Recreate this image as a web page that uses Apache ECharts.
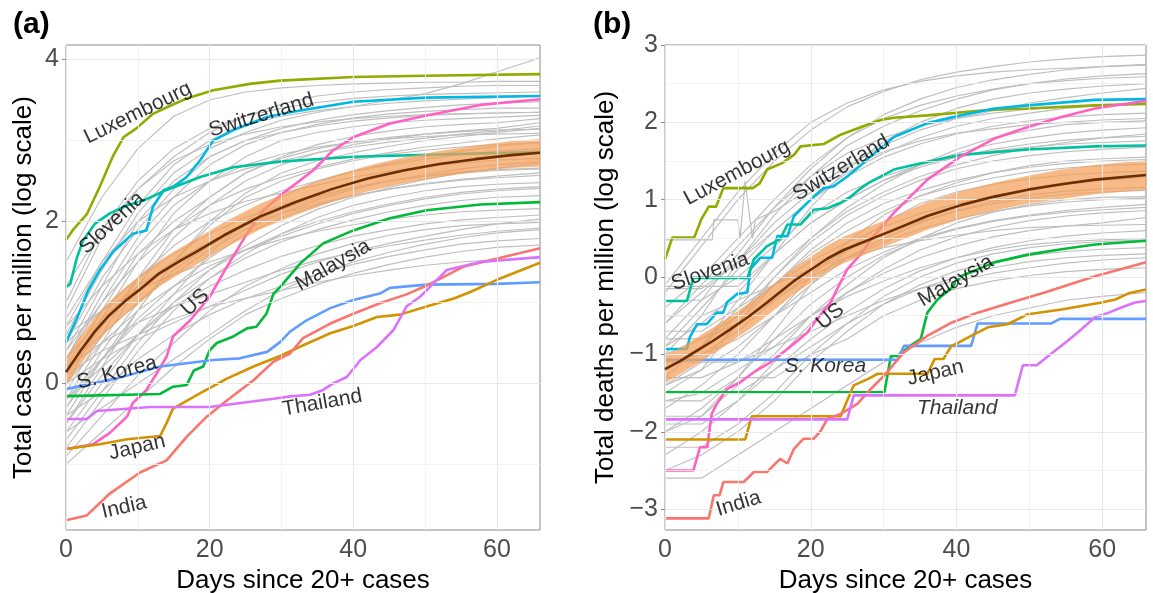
<!DOCTYPE html>
<html><head><meta charset="utf-8">
<script src="https://cdn.jsdelivr.net/npm/echarts@6/dist/echarts.min.js"></script>
<style>html,body{margin:0;padding:0;background:#fff}#c{width:1153px;height:593px}</style>
</head><body><div id="c"></div>
<script>
// ---------- tick labels ----------
const X_TICKS = [0, 20, 40, 60];
const X_MINOR = [10, 30, 50];
const Y_TICKS_A = [0, 2, 4];
const Y_MINOR_A = [-1, 1, 3];
const Y_TICKS_B = [-3, -2, -1, 0, 1, 2, 3];
const Y_MINOR_B = [-2.5, -1.5, -0.5, 0.5, 1.5, 2.5];

// ---------- background countries (grey), sampled days ----------
const GRAY_DAYS = [0, 5, 10, 15, 20, 25, 30, 35, 40, 45, 50, 55, 60, 66];
const GRAY_A = [
  [1.5,2.3,2.9,3.3,3.5,3.6,3.65,3.68,3.70,3.71,3.72,3.72,3.73,3.73],
  [0.6,1.4,2.1,2.6,2.9,3.1,3.25,3.35,3.42,3.5,3.58,3.7,3.85,4.02],
  [0.9,1.8,2.4,2.8,3.1,3.3,3.45,3.55,3.6,3.63,3.65,3.67,3.68,3.68],
  [0.3,1.1,1.8,2.3,2.7,2.95,3.1,3.2,3.28,3.33,3.36,3.38,3.4,3.4],
  [0.5,1.3,1.9,2.4,2.8,3.0,3.1,3.18,3.24,3.28,3.31,3.33,3.34,3.35],
  [0.0,0.8,1.5,2.1,2.5,2.8,3.0,3.1,3.17,3.22,3.25,3.27,3.29,3.31],
  [0.2,0.9,1.6,2.0,2.3,2.6,2.8,2.95,3.05,3.12,3.17,3.2,3.22,3.27],
  [-0.2,0.5,1.2,1.8,2.2,2.5,2.7,2.85,2.95,3.02,3.08,3.12,3.15,3.22],
  [0.8,1.5,2.0,2.3,2.5,2.65,2.75,2.85,2.92,2.98,3.03,3.08,3.12,3.18],
  [-0.4,0.3,0.9,1.5,2.0,2.35,2.6,2.75,2.85,2.93,3.0,3.05,3.1,3.15],
  [0.4,1.0,1.5,1.9,2.2,2.4,2.55,2.67,2.77,2.85,2.92,2.97,3.02,3.07],
  [0.1,0.7,1.3,1.7,2.0,2.2,2.38,2.5,2.62,2.72,2.8,2.87,2.93,2.98],
  [-0.6,0.0,0.6,1.1,1.6,2.0,2.3,2.5,2.62,2.7,2.77,2.83,2.87,2.9],
  [0.7,1.2,1.6,1.9,2.1,2.25,2.35,2.45,2.55,2.62,2.68,2.72,2.76,2.78],
  [-0.3,0.4,1.0,1.4,1.7,1.95,2.15,2.3,2.42,2.5,2.56,2.61,2.64,2.66],
  [0.3,0.8,1.2,1.5,1.75,1.95,2.1,2.22,2.32,2.4,2.46,2.51,2.54,2.57],
  [-0.8,-0.2,0.4,0.9,1.3,1.6,1.85,2.05,2.2,2.3,2.38,2.43,2.46,2.48],
  [0.0,0.5,0.9,1.2,1.45,1.65,1.82,1.97,2.1,2.2,2.28,2.34,2.38,2.41],
  [-0.5,0.1,0.6,1.0,1.3,1.55,1.75,1.9,2.02,2.12,2.2,2.26,2.3,2.32],
  [0.6,0.9,1.15,1.35,1.5,1.65,1.78,1.88,1.96,2.03,2.08,2.12,2.14,2.16],
  [-0.2,0.2,0.6,0.95,1.2,1.4,1.57,1.7,1.82,1.9,1.97,2.02,2.05,2.08],
  [-0.9,-0.4,0.1,0.5,0.9,1.2,1.42,1.6,1.73,1.83,1.9,1.95,1.97,1.99],
  [0.2,0.5,0.75,0.95,1.1,1.25,1.4,1.52,1.62,1.7,1.77,1.83,1.88,1.92],
  [-0.4,-0.1,0.3,0.6,0.85,1.05,1.2,1.35,1.47,1.57,1.65,1.72,1.76,1.79],
  [-1.0,-0.6,-0.2,0.2,0.55,0.85,1.05,1.22,1.36,1.47,1.56,1.63,1.68,1.71],
  [0.1,0.4,0.6,0.8,0.95,1.05,1.15,1.25,1.33,1.4,1.46,1.5,1.53,1.55],
  [1.0,1.9,2.5,2.9,3.15,3.3,3.4,3.47,3.52,3.55,3.57,3.58,3.59,3.6],
  [0.4,1.2,2.0,2.5,2.8,3.0,3.15,3.25,3.32,3.37,3.41,3.44,3.46,3.48],
  [-0.1,0.6,1.3,1.9,2.3,2.6,2.78,2.9,2.98,3.04,3.08,3.11,3.13,3.14],
  [0.3,1.0,1.7,2.2,2.5,2.7,2.83,2.92,2.98,3.02,3.05,3.07,3.08,3.09],
  [-0.7,-0.1,0.5,1.0,1.4,1.7,1.95,2.15,2.3,2.42,2.52,2.6,2.66,2.72],
  [0.5,0.9,1.3,1.6,1.85,2.05,2.2,2.32,2.42,2.5,2.56,2.6,2.63,2.65],
  [-0.3,0.3,0.8,1.2,1.55,1.85,2.05,2.2,2.32,2.4,2.47,2.52,2.56,2.6],
  [0.0,0.3,0.55,0.75,0.95,1.15,1.35,1.5,1.63,1.73,1.82,1.9,1.97,2.03],
  [-0.6,-0.3,0.0,0.3,0.6,0.9,1.15,1.35,1.5,1.62,1.72,1.8,1.86,1.9],
  [1.2,1.9,2.4,2.75,2.95,3.08,3.17,3.23,3.27,3.3,3.32,3.33,3.34,3.35],
  [0.7,1.5,2.2,2.7,3.0,3.2,3.3,3.37,3.42,3.46,3.49,3.51,3.53,3.55],
  [-0.2,0.3,0.75,1.1,1.4,1.65,1.85,2.0,2.12,2.22,2.3,2.36,2.4,2.43],
  [0.2,0.6,1.0,1.35,1.65,1.9,2.1,2.27,2.4,2.5,2.58,2.65,2.7,2.74],
  [-0.5,0.2,0.9,1.5,1.95,2.3,2.5,2.65,2.75,2.83,2.88,2.92,2.95,2.97]
];
const GRAY_B = [
  [-0.2,0.4,1.0,1.5,1.9,2.2,2.4,2.55,2.65,2.72,2.78,2.82,2.85,2.87],
  [-0.8,-0.3,0.3,0.9,1.4,1.8,2.1,2.3,2.45,2.55,2.62,2.68,2.72,2.75],
  [-1.0,-0.5,0.2,0.8,1.3,1.7,1.95,2.15,2.3,2.42,2.5,2.56,2.6,2.63],
  [-0.4,0.0,0.5,1.0,1.45,1.8,2.05,2.22,2.34,2.43,2.5,2.54,2.57,2.59],
  [-1.3,-0.9,-0.3,0.3,0.9,1.4,1.75,2.0,2.18,2.3,2.38,2.43,2.47,2.5],
  [-0.6,-0.2,0.2,0.7,1.1,1.45,1.7,1.9,2.05,2.15,2.25,2.32,2.38,2.44],
  [-1.5,-1.2,-0.6,0.0,0.5,0.9,1.2,1.45,1.65,1.8,1.9,1.97,2.0,2.02],
  [-0.9,-0.6,-0.2,0.3,0.7,1.0,1.25,1.45,1.6,1.72,1.8,1.86,1.9,1.93],
  [-1.2,-0.9,-0.4,0.1,0.5,0.85,1.1,1.3,1.45,1.57,1.67,1.74,1.8,1.85],
  [-0.3,-0.3,0.0,0.4,0.8,1.1,1.3,1.45,1.55,1.63,1.68,1.72,1.74,1.76],
  [-1.7,-1.4,-1.0,-0.5,0.0,0.45,0.8,1.05,1.22,1.35,1.44,1.5,1.53,1.55],
  [-1.0,-0.8,-0.5,-0.1,0.3,0.6,0.85,1.05,1.18,1.28,1.36,1.41,1.44,1.46],
  [-2.0,-1.8,-1.3,-0.7,-0.1,0.35,0.7,0.95,1.1,1.2,1.27,1.32,1.35,1.37],
  [-0.7,-0.7,-0.4,-0.1,0.2,0.45,0.65,0.82,0.95,1.05,1.13,1.2,1.25,1.29],
  [-1.4,-1.2,-0.9,-0.5,-0.1,0.25,0.5,0.7,0.86,0.98,1.06,1.11,1.14,1.16],
  [-1.8,-1.8,-1.4,-1.0,-0.5,-0.1,0.25,0.5,0.7,0.84,0.94,1.0,1.03,1.04],
  [-1.1,-1.0,-0.8,-0.5,-0.2,0.1,0.32,0.5,0.63,0.73,0.8,0.86,0.9,0.94],
  [-2.3,-2.0,-1.6,-1.1,-0.6,-0.2,0.1,0.35,0.52,0.64,0.73,0.79,0.83,0.86],
  [-1.6,-1.5,-1.2,-0.9,-0.5,-0.2,0.05,0.25,0.4,0.52,0.6,0.66,0.7,0.77],
  [-0.5,-0.5,-0.3,-0.1,0.1,0.25,0.38,0.47,0.54,0.6,0.64,0.66,0.67,0.68],
  [-1.9,-1.9,-1.6,-1.2,-0.8,-0.45,-0.15,0.08,0.25,0.38,0.47,0.53,0.57,0.6],
  [-1.3,-1.3,-1.1,-0.8,-0.5,-0.25,-0.05,0.12,0.25,0.35,0.42,0.46,0.48,0.5],
  [-2.5,-2.3,-2.0,-1.6,-1.1,-0.7,-0.35,-0.1,0.08,0.2,0.28,0.33,0.36,0.38],
  [-1.5,-1.5,-1.5,-1.2,-0.9,-0.6,-0.35,-0.15,0.0,0.12,0.2,0.25,0.28,0.3],
  [-0.1,0.5,1.1,1.6,2.0,2.25,2.42,2.53,2.6,2.65,2.68,2.7,2.72,2.74],
  [-0.9,-0.4,0.1,0.6,1.0,1.35,1.6,1.8,1.95,2.05,2.12,2.18,2.22,2.25],
  [-1.2,-0.9,-0.5,0.0,0.45,0.8,1.05,1.25,1.4,1.5,1.57,1.62,1.65,1.68],
  [-0.8,-0.8,-0.6,-0.3,0.0,0.25,0.45,0.62,0.75,0.85,0.92,0.97,1.0,1.02],
  [-2.2,-2.2,-1.9,-1.5,-1.0,-0.6,-0.25,0.0,0.18,0.3,0.38,0.43,0.46,0.48],
  [-1.6,-1.6,-1.3,-1.3,-1.0,-0.8,-0.5,-0.3,-0.15,-0.05,0.02,0.07,0.1,0.12],
  [-2.6,-2.6,-2.3,-2.0,-1.7,-1.4,-1.1,-0.85,-0.65,-0.5,-0.4,-0.3,-0.25,-0.2],
  [-0.6,-0.1,0.4,0.9,1.3,1.6,1.8,1.95,2.05,2.12,2.17,2.2,2.22,2.23],
  [-1.4,-1.1,-0.6,-0.1,0.35,0.7,0.95,1.12,1.25,1.35,1.42,1.47,1.5,1.52],
  [-1.0,-1.0,-0.7,-0.3,0.05,0.35,0.55,0.72,0.85,0.95,1.02,1.07,1.1,1.12],
  [-2.0,-1.7,-1.3,-0.8,-0.35,0.0,0.28,0.48,0.62,0.72,0.79,0.84,0.87,0.9],
  [-1.1,-1.1,-1.1,-0.9,-0.7,-0.5,-0.3,-0.15,-0.05,0.05,0.12,0.18,0.22,0.25],
  [-0.15,-0.15,0.2,0.6,1.0,1.3,1.55,1.72,1.85,1.95,2.02,2.07,2.1,2.12],
  [-0.12,-0.12,-0.12,0.3,0.7,1.0,1.25,1.42,1.55,1.65,1.72,1.77,1.8,1.82]
];
// one grey line in (b) with a one-day spike
const GRAY_B_SPIKE = [[0,0.48],[6.5,0.48],[6.7,0.74],[10,0.74],[10.3,0.5],[11,1.24],[12,0.5],[12.4,0.74],[15,0.85],[20,1.15],[25,1.42],[30,1.62],[35,1.76],[40,1.86],[50,1.97],[60,2.03],[66,2.05]];

// ---------- highlighted countries, panel (a): cases ----------
const A_LUXEMBOURG = [[0,1.77],[1,1.9],[2.9,2.09],[4.7,2.43],[6.5,2.8],[8,3.04],[9.8,3.15],[12.1,3.33],[14.5,3.43],[16.8,3.52],[20.5,3.62],[25.6,3.70],[29.8,3.74],[40,3.785],[50,3.80],[66,3.82]];
const A_SWITZERLAND = [[0,0.51],[1.5,0.8],[3.1,1.15],[4.7,1.40],[6.6,1.63],[9.3,1.85],[11.2,1.89],[12.1,2.18],[13.6,2.39],[14.9,2.43],[16.8,2.55],[18.7,2.76],[20.5,3.0],[23.3,3.13],[28,3.29],[31.2,3.35],[40,3.48],[50.2,3.53],[66,3.55]];
const A_SLOVENIA = [[0,1.19],[0.6,1.23],[1.5,1.55],[2.4,1.77],[4,1.97],[6.1,2.10],[8.5,2.2],[10.8,2.26],[14,2.39],[18.7,2.55],[23.3,2.67],[29.8,2.74],[40,2.80],[66,2.86]];
const A_US = [[0,-0.81],[3.8,-0.75],[6.1,-0.61],[8.5,-0.41],[9.3,-0.24],[11.2,-0.08],[12.6,0.12],[14,0.33],[14.9,0.58],[17.3,0.78],[20,1.07],[22.4,1.44],[25.2,1.85],[27.5,2.14],[29.8,2.32],[34.4,2.63],[37.2,2.88],[40,3.04],[45.1,3.21],[50.2,3.31],[57.7,3.44],[66,3.51]];
const A_MALAYSIA = [[0,-0.157],[13.1,-0.13],[14.9,-0.04],[16.8,-0.02],[17.8,0.16],[19.1,0.21],[20,0.41],[21,0.50],[23.3,0.58],[25.2,0.68],[26.5,0.70],[27.9,0.86],[28.9,1.11],[29.8,1.19],[32.6,1.48],[35.8,1.73],[40,1.89],[45.1,2.04],[50.2,2.14],[57.7,2.21],[66,2.24]];
const A_SKOREA = [[0,-0.07],[7,0.06],[13.1,0.21],[16.8,0.25],[20.5,0.29],[24.2,0.31],[28,0.39],[29.8,0.51],[31.2,0.64],[33.5,0.78],[36.8,0.93],[40,1.03],[43.7,1.11],[45.1,1.18],[50.2,1.22],[60,1.23],[66,1.25]];
const A_JAPAN = [[0,-0.81],[4.7,-0.75],[8.5,-0.69],[13.1,-0.65],[14,-0.49],[14.9,-0.31],[18.7,-0.12],[22.4,0.06],[26.1,0.21],[29.8,0.34],[33.5,0.49],[36.8,0.62],[40,0.71],[43.3,0.82],[46.5,0.85],[50.2,0.95],[54,1.05],[56.3,1.13],[60,1.28],[62.3,1.36],[66,1.49]];
const A_INDIA = [[0,-1.69],[2.9,-1.63],[6.1,-1.36],[10.3,-1.10],[14,-0.95],[16.8,-0.66],[19.6,-0.41],[22.4,-0.21],[26.1,0.04],[28.9,0.27],[31.2,0.37],[33,0.56],[36.8,0.74],[40,0.86],[43.7,0.99],[47.4,1.10],[50,1.2],[55.3,1.44],[66,1.67]];
const A_THAILAND = [[0,-0.44],[2.9,-0.44],[4.3,-0.34],[11.7,-0.29],[20,-0.29],[28.9,-0.19],[31.2,-0.16],[34,-0.14],[35.8,-0.08],[37.2,0.0],[39.1,0.08],[41,0.29],[43.3,0.45],[45.6,0.66],[47.4,0.95],[49.3,1.07],[53,1.40],[57.7,1.50],[66,1.56]];

// ---------- highlighted countries, panel (b): deaths ----------
const B_LUXEMBOURG = [[0,0.23],[1,0.51],[4,0.51],[5,0.75],[6,0.91],[7,0.91],[8,1.15],[12,1.15],[13,1.21],[14,1.39],[16,1.47],[17.7,1.58],[18.6,1.69],[21.8,1.72],[24.1,1.84],[26.9,1.94],[29.6,2.03],[31.4,2.06],[36,2.09],[44.3,2.16],[49.8,2.18],[59,2.22],[66,2.24]];
const B_SWITZERLAND = [[0,-0.93],[3,-0.93],[3.4,-0.78],[4.4,-0.61],[5.7,-0.61],[7.1,-0.46],[8,-0.46],[8.5,-0.33],[9.9,-0.22],[11.3,-0.2],[11.7,0.10],[13.1,0.25],[14.7,0.25],[15.4,0.53],[16.8,0.53],[17.7,0.79],[20.4,1.04],[21.8,1.15],[23.1,1.17],[25,1.30],[26.9,1.45],[28.2,1.56],[31.4,1.81],[36,1.99],[40.6,2.09],[45.2,2.18],[49.8,2.22],[59,2.29],[66,2.30]];
const B_SLOVENIA = [[0,-0.31],[3,-0.31],[3.9,-0.01],[11.3,-0.01],[12.2,0.23],[14,0.40],[15.8,0.49],[16.8,0.68],[18.6,0.68],[20.4,0.87],[22.3,0.89],[24.1,0.96],[25.5,1.04],[26.9,1.15],[28,1.22],[31.4,1.39],[36,1.49],[40.6,1.58],[49.8,1.65],[59,1.69],[66,1.70]];
const B_US = [[0,-2.5],[3.9,-2.5],[4.8,-2.2],[5.8,-2.2],[6.4,-1.77],[7.1,-1.64],[8.5,-1.45],[10.3,-1.36],[12.2,-1.23],[14.5,-1.10],[16.8,-0.93],[19.5,-0.72],[20.9,-0.54],[22.7,-0.33],[23.6,-0.16],[25,0.1],[26.9,0.3],[28.2,0.48],[31.4,0.83],[36,1.26],[40.6,1.56],[45.2,1.79],[49.8,1.94],[54.4,2.07],[59,2.18],[66,2.28]];
const B_MALAYSIA = [[0,-1.49],[30.1,-1.49],[31,-1.02],[31.9,-1.02],[33.5,-0.9],[35.1,-0.80],[36,-0.46],[37.4,-0.29],[39.3,-0.14],[40.6,0.01],[45.2,0.19],[49.8,0.29],[54.4,0.36],[59,0.42],[66,0.47]];
const B_SKOREA = [[0,-1.07],[31.9,-1.07],[32.8,-0.89],[42,-0.89],[42.9,-0.60],[53,-0.60],[54.2,-0.54],[66,-0.54]];
const B_JAPAN = [[0,-2.10],[11,-2.10],[11.9,-1.80],[24.1,-1.80],[24.8,-1.64],[25.9,-1.40],[27.8,-1.32],[29.2,-1.25],[36,-1.25],[37,-1.06],[38.2,-1.06],[39.3,-0.89],[40.2,-0.85],[42,-0.76],[44.3,-0.65],[47,-0.61],[49.8,-0.48],[54.4,-0.42],[59.9,-0.33],[61.8,-0.29],[63.6,-0.21],[66,-0.16]];
const B_THAILAND = [[0,-1.84],[25,-1.84],[25.9,-1.53],[48,-1.53],[49.1,-1.14],[51,-1.14],[52.6,-1.02],[55.3,-0.82],[57.2,-0.67],[59,-0.52],[60.9,-0.46],[62.7,-0.39],[64.5,-0.33],[66,-0.31]];
const B_INDIA = [[0,-3.12],[6,-3.12],[6.7,-2.82],[7.5,-2.82],[8,-2.65],[10.8,-2.65],[12.2,-2.52],[14,-2.52],[15.8,-2.35],[16.8,-2.41],[17.7,-2.22],[19,-2.09],[20.4,-2.09],[21.3,-2.0],[22.3,-1.83],[24.1,-1.77],[26.4,-1.64],[28.2,-1.45],[30.1,-1.27],[32.8,-0.97],[36,-0.76],[39.3,-0.59],[42.9,-0.46],[47.5,-0.33],[52.1,-0.20],[59,0.01],[66,0.19]];

// ---------- model mean and its band ----------
const A_MEAN = [[0,0.14],[2,0.40],[4,0.64],[6,0.84],[8.4,1.03],[10,1.14],[13,1.36],[16,1.52],[18,1.62],[22,1.83],[27,2.06],[32,2.24],[37,2.40],[42,2.53],[47,2.63],[52,2.71],[57,2.77],[62,2.82],[66,2.85]];
const A_UPPER = [[0,0.32],[2,0.58],[4,0.81],[6,1.01],[8.4,1.20],[10,1.31],[13,1.52],[16,1.68],[18,1.78],[22,1.99],[27,2.22],[32,2.40],[37,2.56],[42,2.69],[47,2.79],[52,2.87],[57,2.94],[62,2.99],[66,3.02]];
const A_LOWER = [[0,-0.03],[2,0.23],[4,0.47],[6,0.67],[8.4,0.86],[10,0.97],[13,1.20],[16,1.36],[18,1.46],[22,1.67],[27,1.90],[32,2.08],[37,2.24],[42,2.37],[47,2.47],[52,2.55],[57,2.61],[62,2.66],[66,2.68]];
const B_MEAN = [[0,-1.19],[2,-1.09],[4.4,-0.95],[6.5,-0.83],[8.9,-0.68],[11.5,-0.51],[14,-0.33],[17.7,-0.05],[20.4,0.12],[22.3,0.24],[24.5,0.35],[26.9,0.44],[29,0.52],[31.4,0.61],[36,0.79],[40.6,0.93],[45.2,1.04],[49.8,1.13],[54.4,1.20],[59,1.26],[66,1.32]];
const B_UPPER = [[0,-1.01],[2,-0.92],[4.4,-0.78],[6.5,-0.66],[8.9,-0.51],[11.5,-0.34],[14,-0.16],[17.7,0.12],[20.4,0.29],[22.3,0.41],[24.5,0.52],[26.9,0.61],[29,0.69],[31.4,0.78],[36,0.97],[40.6,1.11],[45.2,1.22],[49.8,1.31],[54.4,1.39],[59,1.45],[66,1.51]];
const B_LOWER = [[0,-1.37],[2,-1.26],[4.4,-1.12],[6.5,-1.00],[8.9,-0.85],[11.5,-0.68],[14,-0.50],[17.7,-0.22],[20.4,-0.05],[22.3,0.07],[24.5,0.18],[26.9,0.27],[29,0.35],[31.4,0.44],[36,0.61],[40.6,0.75],[45.2,0.86],[49.8,0.95],[54.4,1.01],[59,1.07],[66,1.13]];

// ---------- text labels: [name, day, value, rotate, italic] ----------
const LABELS_A = [
  ['Luxembourg',10.0,3.34,26,false],['Switzerland',27.2,3.31,17,false],['Slovenia',6.4,1.98,43,false],
  ['US',18.0,1.0,43,false],['Malaysia',37.2,1.46,30,false],['S. Korea',7.1,0.13,15,false],
  ['Thailand',35.7,-0.24,10,false],['Japan',9.9,-0.79,13,false],['India',8.1,-1.53,13,false]
];
const LABELS_B = [
  ['Luxembourg',9.9,1.35,28,false],['Switzerland',24.2,1.41,31,false],['Slovenia',6.2,0.07,19,false],
  ['US',22.7,-0.51,40,false],['S. Korea',22.0,-1.15,0,true],['Malaysia',39.9,-0.05,30,false],
  ['Japan',37.1,-1.24,13,false],['Thailand',40.1,-1.70,0,true],['India',10.1,-2.93,17,false]
];

const COLORS = {India:'#F8766D', Japan:'#D39200', Luxembourg:'#93AA00', Malaysia:'#00BA38',
  Slovenia:'#00C19F', Switzerland:'#00B9E3', SKorea:'#619CFF', Thailand:'#DB72FB', US:'#FF61C3'};

const FONT = '"Liberation Sans", Arial, Helvetica, sans-serif';

function gridSeries(idx, yMajor, yMinor) {
  const d = [];
  yMinor.forEach(v => d.push({yAxis: v, lineStyle: {color: '#F0F0F0', width: 0.8, type: 'solid'}}));
  X_MINOR.forEach(v => d.push({xAxis: v, lineStyle: {color: '#F0F0F0', width: 0.8, type: 'solid'}}));
  yMajor.forEach(v => d.push({yAxis: v, lineStyle: {color: '#E8E8E8', width: 1.2, type: 'solid'}}));
  X_TICKS.forEach(v => d.push({xAxis: v, lineStyle: {color: '#E8E8E8', width: 1.2, type: 'solid'}}));
  return {type: 'line', xAxisIndex: idx, yAxisIndex: idx, data: [], z: 1, silent: true,
    markLine: {silent: true, symbol: 'none', label: {show: false}, animation: false, data: d}};
}
function grayLines(arr, idx) {
  return arr.map(vals => ({type: 'line', xAxisIndex: idx, yAxisIndex: idx, symbol: 'none', silent: true, z: 2,
    data: GRAY_DAYS.map((dd, i) => [dd, vals[i]]), lineStyle: {color: '#BEBEBE', width: 1.15}}));
}
function country(data, color, idx) {
  return {type: 'line', xAxisIndex: idx, yAxisIndex: idx, symbol: 'none', silent: true, z: 3,
    data: data, lineStyle: {color: color, width: 2.6}};
}
function band(upper, lower, idx) {
  return {type: 'custom', xAxisIndex: idx, yAxisIndex: idx, z: 4, silent: true, data: [[0, 0]],
    renderItem: function (params, api) {
      const pts = upper.map(p => api.coord(p)).concat(lower.slice().reverse().map(p => api.coord(p)));
      return {type: 'polygon', shape: {points: pts}, style: {fill: 'rgba(244,160,88,0.72)', stroke: null}};
    }};
}
function meanLine(data, idx) {
  return {type: 'line', xAxisIndex: idx, yAxisIndex: idx, symbol: 'none', silent: true, z: 5,
    data: data, lineStyle: {color: '#6B2E05', width: 2.6}};
}
function labels(arr, idx) {
  return {type: 'scatter', xAxisIndex: idx, yAxisIndex: idx, z: 6, silent: true, symbolSize: 1,
    itemStyle: {color: 'rgba(0,0,0,0)'},
    data: arr.map(l => ({value: [l[1], l[2]], label: {show: true, position: 'inside', formatter: l[0], rotate: l[3],
      fontStyle: l[4] ? 'italic' : 'normal', fontSize: 21, color: '#000', textBorderWidth: 0,
      textBorderColor: 'transparent', fontFamily: FONT}}))};
}
const minus = v => String(v).replace('-', '\u2212');

function xAxis(idx) {
  return {type: 'value', gridIndex: idx, min: 0, max: 66, splitLine: {show: false},
    axisLine: {show: false},
    axisTick: {show: true, length: 4, lineStyle: {color: '#8A8A8A'}, customValues: X_TICKS},
    axisLabel: {customValues: X_TICKS, fontSize: 25, color: '#4D4D4D', margin: 8, fontFamily: FONT},
    name: 'Days since 20+ cases', nameLocation: 'middle', nameGap: 36,
    nameTextStyle: {fontSize: 26, color: '#000', fontFamily: FONT}};
}
function yAxis(idx, min, max, ticks, name, gap) {
  return {type: 'value', gridIndex: idx, min: min, max: max, splitLine: {show: false},
    axisLine: {show: false},
    axisTick: {show: true, length: 4, lineStyle: {color: '#8A8A8A'}, customValues: ticks},
    axisLabel: {customValues: ticks, fontSize: 25, color: '#4D4D4D', margin: 7, fontFamily: FONT, formatter: minus},
    name: name, nameLocation: 'middle', nameGap: gap,
    nameTextStyle: {fontSize: 26, color: '#000', fontFamily: FONT}};
}

const series = [
  gridSeries(0, Y_TICKS_A, Y_MINOR_A),
  gridSeries(1, Y_TICKS_B, Y_MINOR_B),
  ...grayLines(GRAY_A, 0),
  ...grayLines(GRAY_B, 1),
  {type: 'line', xAxisIndex: 1, yAxisIndex: 1, symbol: 'none', silent: true, z: 2, data: GRAY_B_SPIKE, lineStyle: {color: '#BEBEBE', width: 1.15}},
  country(A_LUXEMBOURG, COLORS.Luxembourg, 0), country(A_SWITZERLAND, COLORS.Switzerland, 0),
  country(A_SLOVENIA, COLORS.Slovenia, 0), country(A_US, COLORS.US, 0), country(A_MALAYSIA, COLORS.Malaysia, 0),
  country(A_SKOREA, COLORS.SKorea, 0), country(A_JAPAN, COLORS.Japan, 0), country(A_INDIA, COLORS.India, 0),
  country(A_THAILAND, COLORS.Thailand, 0),
  country(B_LUXEMBOURG, COLORS.Luxembourg, 1), country(B_SWITZERLAND, COLORS.Switzerland, 1),
  country(B_SLOVENIA, COLORS.Slovenia, 1), country(B_US, COLORS.US, 1), country(B_MALAYSIA, COLORS.Malaysia, 1),
  country(B_SKOREA, COLORS.SKorea, 1), country(B_JAPAN, COLORS.Japan, 1), country(B_INDIA, COLORS.India, 1),
  country(B_THAILAND, COLORS.Thailand, 1),
  band(A_UPPER, A_LOWER, 0), band(B_UPPER, B_LOWER, 1),
  meanLine(A_MEAN, 0), meanLine(B_MEAN, 1),
  labels(LABELS_A, 0), labels(LABELS_B, 1)
];

const chart = echarts.init(document.getElementById('c'), null, {renderer: 'canvas'});
chart.setOption({
  animation: false,
  backgroundColor: '#fff',
  title: [
    {text: '(a)', left: 8, top: 5, textStyle: {fontSize: 30, fontWeight: 'bold', color: '#000', fontFamily: FONT}},
    {text: '(b)', left: 588, top: 5, textStyle: {fontSize: 30, fontWeight: 'bold', color: '#000', fontFamily: FONT}}
  ],
  grid: [
    {left: 66, right: 613, top: 45, bottom: 63, show: true, borderColor: '#8A8A8A', borderWidth: 1, backgroundColor: 'transparent', containLabel: false, outerBoundsMode: 'none'},
    {left: 665, right: 7, top: 45, bottom: 63, show: true, borderColor: '#8A8A8A', borderWidth: 1, backgroundColor: 'transparent', containLabel: false, outerBoundsMode: 'none'}
  ],
  xAxis: [xAxis(0), xAxis(1)],
  yAxis: [
    yAxis(0, -1.81, 4.18, Y_TICKS_A, 'Total cases per million (log scale)', 29),
    yAxis(1, -3.27, 3.0, Y_TICKS_B, 'Total deaths per million (log scale)', 46)
  ],
  series: series
});
</script></body></html>
